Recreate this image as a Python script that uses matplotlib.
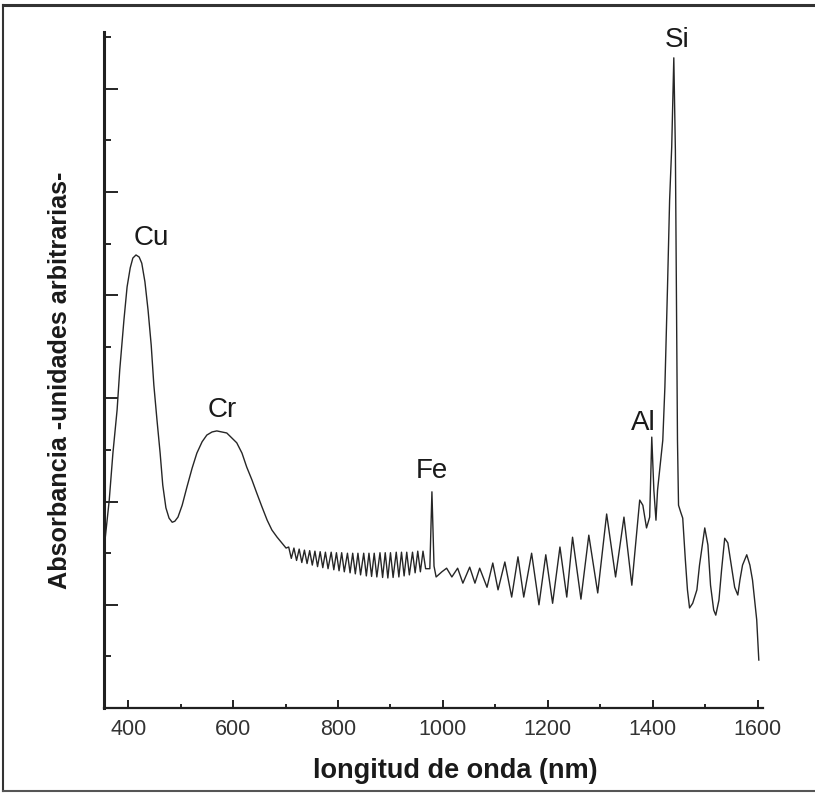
import matplotlib
matplotlib.use("Agg")
import matplotlib.pyplot as plt
from matplotlib.lines import Line2D
from matplotlib.ticker import MultipleLocator

plt.rcParams['font.family'] = ['Liberation Sans', 'DejaVu Sans']

# spectrum: wavelength (nm) and absorbance (arbitrary units)
wl_smooth = [354, 356, 364, 371, 379, 384, 392, 398, 404, 409, 415, 421, 426, 432, 438,
             444, 449, 455, 461, 466, 472, 478, 484, 489, 495, 503, 512, 522, 531, 541,
             550, 560, 569, 579, 588, 598, 607, 617, 626, 636, 645, 655, 665, 674, 684,
             693, 701]
ab_smooth = [3.10, 3.26, 4.03, 4.94, 5.78, 6.55, 7.52, 8.16, 8.53, 8.72, 8.78, 8.74, 8.62,
             8.26, 7.71, 7.03, 6.26, 5.58, 4.94, 4.32, 3.88, 3.68, 3.60, 3.62, 3.70, 3.93,
             4.28, 4.65, 4.94, 5.16, 5.29, 5.35, 5.37, 5.35, 5.33, 5.23, 5.14, 4.94, 4.67,
             4.42, 4.17, 3.90, 3.64, 3.45, 3.31, 3.20, 3.10]

# interference fringes between 700 and 970 nm
wl_fringe = [706, 711, 716, 721, 726, 731, 736, 741, 746, 751, 756, 761, 766, 771, 776,
             781, 787, 792, 797, 802, 807, 812, 818, 823, 828, 833, 838, 843, 849, 854,
             859, 864, 869, 874, 880, 885, 890, 895, 900, 905, 911, 916, 921, 926, 931,
             936, 942, 947, 952, 957, 962, 967]
ab_fringe = [3.12, 2.90, 3.10, 2.86, 3.08, 2.82, 3.06, 2.80, 3.05, 2.77, 3.04, 2.74, 3.03,
             2.72, 3.02, 2.70, 3.02, 2.68, 3.01, 2.66, 3.01, 2.64, 3.00, 2.62, 3.00, 2.60,
             3.00, 2.58, 3.00, 2.56, 3.00, 2.55, 3.00, 2.54, 3.01, 2.53, 3.01, 2.52, 3.01,
             2.53, 3.02, 2.54, 3.02, 2.56, 3.02, 2.58, 3.02, 2.62, 3.04, 2.64, 3.04, 2.70]

# Fe line, fringes up to Al / Si and the noisy tail
wl_ir = [975, 979, 983, 987, 998, 1007, 1017, 1028, 1038, 1051, 1061, 1070, 1084, 1095,
         1105, 1118, 1131, 1143, 1154, 1169, 1183, 1196, 1209, 1223, 1236, 1247, 1263,
         1278, 1295, 1312, 1329, 1345, 1360, 1375, 1381, 1388, 1394, 1398, 1402, 1406,
         1409, 1415, 1419, 1423, 1428, 1432, 1436, 1440, 1443, 1445, 1447, 1449, 1453,
         1457, 1462, 1466, 1470, 1476, 1484, 1489, 1499, 1505, 1510, 1516, 1520, 1526,
         1531, 1537, 1543, 1548, 1556, 1562, 1566, 1571, 1579, 1585, 1590, 1594, 1598,
         1602]
ab_ir = [2.70, 4.19, 2.75, 2.54, 2.64, 2.71, 2.54, 2.71, 2.42, 2.73, 2.42, 2.71, 2.34, 2.81,
         2.29, 2.83, 2.15, 2.93, 2.15, 3.00, 2.00, 2.97, 2.03, 3.12, 2.15, 3.31, 2.11,
         3.35, 2.23, 3.76, 2.54, 3.70, 2.38, 4.03, 3.93, 3.49, 3.70, 5.25, 4.22, 3.64,
         4.22, 4.81, 5.19, 6.22, 8.16, 9.84, 10.87, 12.60, 10.81, 7.91, 5.19, 3.93, 3.80,
         3.68, 2.87, 2.29, 1.94, 2.03, 2.29, 2.77, 3.49, 3.16, 2.38, 1.90, 1.80, 2.09,
         2.67, 3.29, 3.20, 2.87, 2.34, 2.19, 2.48, 2.77, 2.97, 2.77, 2.48, 2.09, 1.71,
         0.93]

elements = ['Cu', 'Cr', 'Fe', 'Al', 'Si']
elem_wl = [445, 579, 979, 1381, 1446]
elem_ab = [9.11, 5.78, 4.59, 5.52, 12.95]

wavelength = wl_smooth + wl_fringe + wl_ir
absorbance = ab_smooth + ab_fringe + ab_ir

fig = plt.figure(figsize=(8.15, 7.95), dpi=100)
ax = fig.add_axes([0.1276, 0.1094, 0.8086, 0.8503])

ax.plot(wavelength, absorbance, color='#262626', lw=1.0, solid_joinstyle='round')

for name, x, y in zip(elements, elem_wl, elem_ab):
    ax.text(x, y, name, ha='center', va='center', fontsize=20, color='#1a1a1a')

ax.set_xlim(354, 1610)
ax.set_ylim(0, 13.1)

ax.spines['top'].set_visible(False)
ax.spines['right'].set_visible(False)
ax.spines['left'].set_linewidth(2.2)
ax.spines['bottom'].set_linewidth(1.6)
ax.spines['left'].set_color('#202020')
ax.spines['bottom'].set_color('#202020')

ax.xaxis.set_major_locator(MultipleLocator(200))
ax.xaxis.set_minor_locator(MultipleLocator(100))
ax.yaxis.set_major_locator(MultipleLocator(2))
ax.yaxis.set_minor_locator(MultipleLocator(1))
ax.tick_params(axis='x', which='major', direction='in', length=6, width=1.4,
               labelsize=15.5, pad=8, colors='#202020', labelcolor='#333333')
ax.tick_params(axis='x', which='minor', direction='in', length=3, width=1.2)
ax.tick_params(axis='y', which='major', direction='in', length=10, width=1.2,
               labelleft=False)
ax.tick_params(axis='y', which='minor', direction='in', length=5, width=1.2)

ax.set_xlabel('longitud de onda (nm)', fontsize=19.5, fontweight='bold', color='#1a1a1a')
ax.set_ylabel('Absorbancia -unidades arbitrarias-', fontsize=18.2, fontweight='bold',
              color='#1a1a1a')
ax.xaxis.set_label_coords(0.533, -0.074)
ax.yaxis.set_label_coords(-0.048, 0.485)

# scanned page frame
fig.add_artist(Line2D([0.004, 1.0], [0.9935, 0.9935], color='#333333', lw=2.2,
                      transform=fig.transFigure))
fig.add_artist(Line2D([0.004, 0.004], [0.005, 0.9935], color='#333333', lw=1.5,
                      transform=fig.transFigure))
fig.add_artist(Line2D([0.004, 1.0], [0.005, 0.005], color='#555555', lw=1.5,
                      transform=fig.transFigure))

fig.savefig('out.png', dpi=100)
